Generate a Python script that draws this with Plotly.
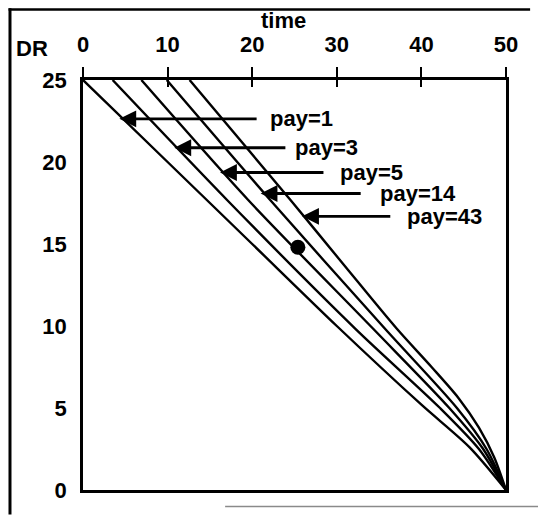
import plotly.graph_objects as go

# ---- data ----
pay1_time = [0, 10, 20, 30, 40, 45.7, 50]
pay1_dr = [25, 20, 15, 10, 5.2, 2.6, 0]

pay3_time = [3.5, 17.0, 32.2, 42.2, 46.8, 50]
pay3_dr = [25, 17.7, 9.83, 5.0, 2.5, 0]

pay5_time = [6.9, 19.5, 34.3, 43.3, 47.3, 50]
pay5_dr = [25, 17.7, 9.83, 5.0, 2.5, 0]

pay14_time = [9.9, 22.1, 35.7, 44.2, 47.7, 50]
pay14_dr = [25, 17.7, 9.83, 5.0, 2.5, 0]

pay43_time = [12.6, 24.5, 30.8, 37.1, 41.2, 44.4, 46.8, 48.6, 50]
pay43_dr = [25, 17.7, 13.75, 9.83, 7.5, 5.6, 3.8, 2.0, 0]

dot_time = [25.4]
dot_dr = [14.8]

labels = ["pay=1", "pay=3", "pay=5", "pay=14", "pay=43"]
arrow_dr = [22.63, 20.87, 19.36, 18.08, 16.69]
arrow_head_time = [4.3, 10.8, 16.2, 21.0, 25.9]
arrow_tail_time = [20.7, 24.1, 28.6, 33.0, 36.5]
label_time = [21.9, 24.8, 30.1, 34.9, 38.1]

x_ticks = [0, 10, 20, 30, 40, 50]
y_ticks = [0, 5, 10, 15, 20, 25]

FONT = "Liberation Sans"
FS = 22
TXT = dict(family=FONT, size=FS, color="black", weight="bold")

fig = go.Figure()
curves = [(pay1_time, pay1_dr), (pay3_time, pay3_dr), (pay5_time, pay5_dr),
          (pay14_time, pay14_dr), (pay43_time, pay43_dr)]
for (t, d), name in zip(curves, labels):
    fig.add_trace(go.Scatter(x=t, y=d, mode="lines", name=name,
                             line=dict(color="black", width=2.4, shape="spline", smoothing=0.8),
                             showlegend=False, hoverinfo="skip"))

fig.add_trace(go.Scatter(x=dot_time, y=dot_dr, mode="markers",
                         marker=dict(color="black", size=15),
                         showlegend=False, hoverinfo="skip"))

# invisible trace for the overlay axis (inner tick halves)
fig.add_trace(go.Scatter(x=[0, 50], y=[0, 25], xaxis="x2", mode="markers",
                         marker=dict(opacity=0), showlegend=False, hoverinfo="skip"))

for lab, dr, h, tl, lt in zip(labels, arrow_dr, arrow_head_time, arrow_tail_time, label_time):
    fig.add_annotation(x=h, y=dr, ax=tl, ay=dr, axref="x", ayref="y",
                       xref="x", yref="y", text="", showarrow=True,
                       arrowhead=2, arrowsize=1.2, arrowwidth=2.8, arrowcolor="black")
    fig.add_annotation(x=lt, y=dr, xref="x", yref="y", text=lab, showarrow=False,
                       xanchor="left", yanchor="middle", font=TXT)

fig.add_annotation(x=0.473, y=1.146, xref="paper", yref="paper", text="time",
                   showarrow=False, xanchor="center", yanchor="middle", font=TXT)
fig.add_annotation(x=-0.12, y=1.076, xref="paper", yref="paper", text="DR",
                   showarrow=False, xanchor="center", yanchor="middle", font=TXT)

# outer frame pieces (pixel-anchored via paper coords)
fig.add_shape(type="line", xref="paper", yref="paper", x0=-0.1726, x1=-0.1726,
              y0=1.175, y1=-0.06, line=dict(color="black", width=3), layer="above")
fig.add_shape(type="line", xref="paper", yref="paper", x0=-0.176, x1=1.057,
              y0=1.172, y1=1.172, line=dict(color="black", width=2.5), layer="above")
fig.add_shape(type="line", xref="paper", yref="paper", x0=0.336, x1=1.08,
              y0=-0.04, y1=-0.04, line=dict(color="#8a8a8a", width=1.5), layer="above")

fig.update_layout(
    width=538, height=515,
    margin=dict(l=83, r=32, t=80, b=23),
    paper_bgcolor="white", plot_bgcolor="white",
    font=TXT,
    xaxis=dict(range=[0, 50], side="top", tickvals=x_ticks, ticks="outside",
               ticklen=10, tickwidth=2, tickcolor="black", showline=True,
               linewidth=2.5, linecolor="black", mirror=True, showgrid=False,
               zeroline=False, ticklabelstandoff=6, tickfont=TXT),
    xaxis2=dict(range=[0, 50], overlaying="x", side="top", tickvals=x_ticks,
                ticks="inside", ticklen=7, tickwidth=2, tickcolor="black",
                showticklabels=False, showgrid=False, zeroline=False, showline=False),
    yaxis=dict(range=[0, 25], tickvals=y_ticks, ticks="", showline=True,
               linewidth=2.5, linecolor="black", mirror=True, showgrid=False,
               zeroline=False, ticklabelstandoff=9, tickfont=TXT),
)

fig.write_html("out.html", config={"displayModeBar": False},
               post_script="document.body.style.margin='0';document.body.style.padding='0';")
